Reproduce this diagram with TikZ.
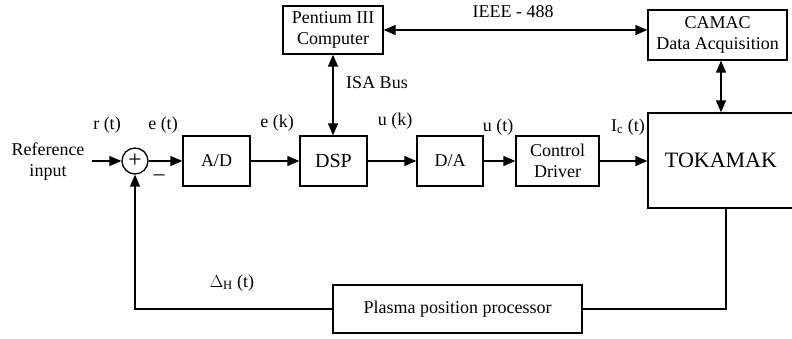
\documentclass[tikz,border=0pt]{standalone}
\usepackage{fontspec}
\setmainfont{Liberation Serif}
\usetikzlibrary{positioning,arrows.meta}

\tikzset{
  block/.style={draw, line width=1.3pt, minimum height=50pt, inner sep=2pt, align=center},
  sumnode/.style={draw, circle, line width=1.3pt, minimum size=26pt, inner sep=0pt, font=\fontsize{24}{24}\selectfont},
  flow/.style={line width=1.3pt, -{Triangle[length=12pt,width=10pt]}},
  bothflow/.style={line width=1.3pt, {Triangle[length=12pt,width=10pt]}-{Triangle[length=12pt,width=10pt]}},
  wire/.style={line width=1.3pt}
}

\begin{document}
\begin{tikzpicture}[x=1pt,y=-1pt,font=\fontsize{18}{21}\selectfont]

	% Frame
	\path[use as bounding box] (0,0) rectangle (792,339);
	\clip (0,0) rectangle (792,339);

	% Forward path
	\node[align=center] (ref) at (48,162) {Reference\\input};
	\node[sumnode] (sum) at (135,161) {+};
	\node[block, minimum width=67pt] (ad) at (216.5,161) {A/D};
	\node[block, minimum width=67pt, font=\fontsize{20}{24}\selectfont] (dsp) at (333.5,161) {DSP};
	\node[block, minimum width=66pt] (da) at (450,161) {D/A};
	\node[block, minimum width=83pt] (drv) at (557.5,161) {Control\\Driver};
	\node[block, minimum width=146pt, minimum height=95pt, font=\fontsize{22}{26}\selectfont] (tok) at (721,160.5) {TOKAMAK};

	% Computer side
	\node[block, minimum width=100pt, minimum height=48pt] (pc) at (333,30) {Pentium III\\Computer};
	\node[block, minimum width=139pt] (camac) at (717.5,35) {CAMAC\\Data Acquisition};

	% Feedback
	\node[block, minimum width=249pt, minimum height=48pt] (ppp) at (457.5,309) {Plasma position processor};

	% Connections
	\draw[flow, shorten <=4pt] (ref.east |- sum) -- (sum.west);
	\draw[flow] (sum) -- (ad);
	\draw[flow] (ad) -- (dsp);
	\draw[flow] (dsp) -- (da);
	\draw[flow] (da) -- (drv);
	\draw[flow] (drv.east) -- (drv.east -| tok.west);
	\draw[bothflow] (pc.south) -- (pc.south |- dsp.north);
	\draw[bothflow] (pc.east) -- (pc.east -| camac.west);
	\draw[bothflow] (tok.north |- camac.south) -- (tok.north);
	\draw[wire] ([xshift=5pt]tok.south) |- (ppp.east);
	\draw[flow] (ppp.west) -| (sum.south);

	% Labels
	\node (rt) at (107,125) {r (t)};
	\node (et) at (163,125) {e (t)};
	\node[font=\fontsize{22}{22}\selectfont] (minus) at (159,178) {--};
	\node (ek) at (277,123) {e (k)};
	\node (uk) at (395,121) {u (k)};
	\node (ut) at (498,127) {u (t)};
	\node (ict) at (628,127) {I\textsubscript{c} (t)};
	\node (isa) at (377,83) {ISA Bus};
	\node (ieee) at (513,12) {IEEE - 488};
	\node (dht) at (232,283) {$\Delta$\textsubscript{H} (t)};

\end{tikzpicture}
\end{document}
